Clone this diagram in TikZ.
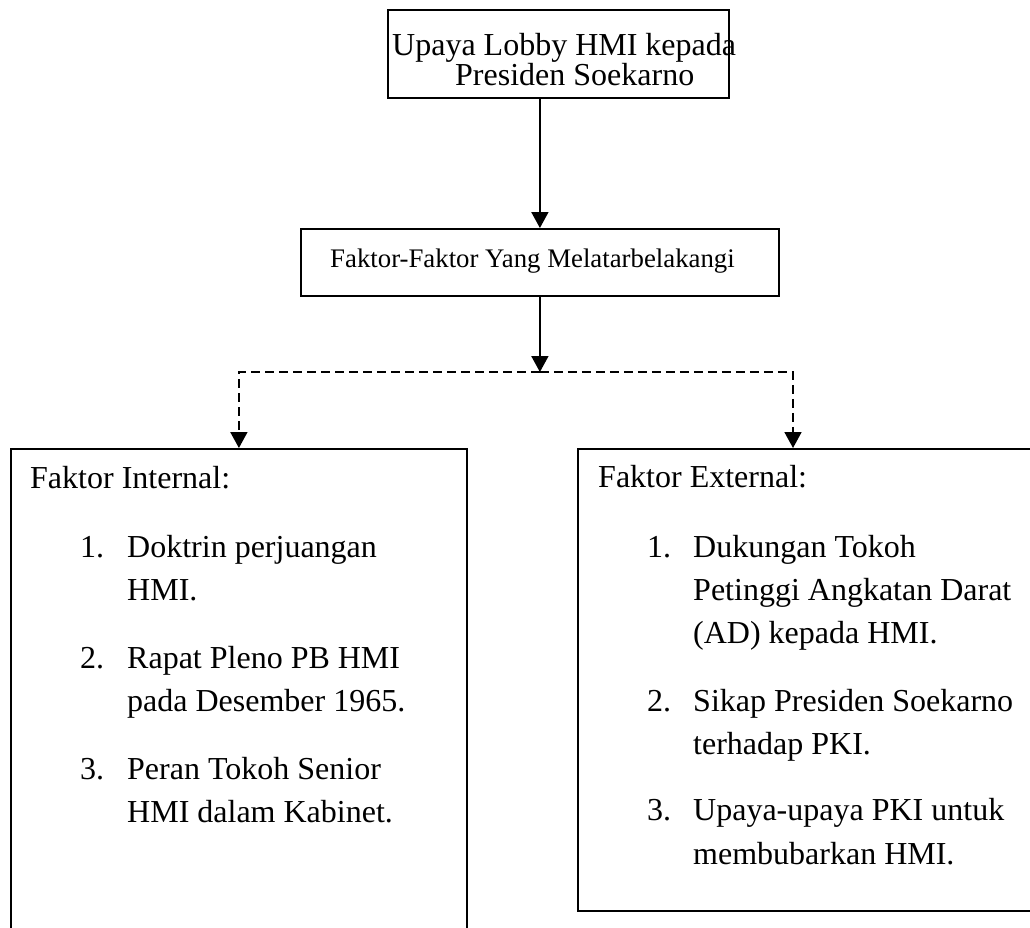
\documentclass[tikz,border=0pt]{standalone}
\usepackage{fontspec}
\setmainfont{Liberation Serif}
\usetikzlibrary{arrows.meta}
\begin{document}
\begin{tikzpicture}[x=1pt,y=-1pt,
  box/.style={draw,line width=1.8pt,rectangle,inner sep=0pt,anchor=north west},
  txt/.style={anchor=base west,inner sep=0pt,font=\fontsize{32}{36}\selectfont},
  stxt/.style={anchor=base west,inner sep=0pt,font=\fontsize{26.8}{30}\selectfont},
  link/.style={line width=1.8pt,-{Triangle[length=16pt,width=17pt]}},
  dlink/.style={link,dash pattern=on 9pt off 5pt}]
\useasboundingbox (0,0) rectangle (1030,927);
\clip (0,0) rectangle (1030,927);
% boxes
\node[box,minimum width=341pt,minimum height=88pt] (top) at (387,9) {};
\node[box,minimum width=478pt,minimum height=67pt] (mid) at (300,228) {};
\node[box,minimum width=456pt,minimum height=520pt] (left) at (10,448) {};
\node[box,minimum width=480pt,minimum height=462pt] (right) at (577,448) {};
% top texts
\node[txt] (t1) at (392,55) {Upaya Lobby HMI kepada};
\node[txt] (t2) at (455,85) {Presiden Soekarno};
% middle text
\node[stxt] (m1) at (330,267) {Faktor-Faktor Yang Melatarbelakangi};
% left texts
\node[txt] (lh) at (30,488) {Faktor Internal:};
\node[txt] (ln1) at (80,557) {1.};
\node[txt] (l1a) at (127,557) {Doktrin perjuangan};
\node[txt] (l1b) at (127,600) {HMI.};
\node[txt] (ln2) at (80,668) {2.};
\node[txt] (l2a) at (127,668) {Rapat Pleno PB HMI};
\node[txt] (l2b) at (127,711) {pada Desember 1965.};
\node[txt] (ln3) at (80,779) {3.};
\node[txt] (l3a) at (127,779) {Peran Tokoh Senior};
\node[txt] (l3b) at (127,822) {HMI dalam Kabinet.};
% right texts
\node[txt] (rh) at (598,487) {Faktor External:};
\node[txt] (rn1) at (647,557) {1.};
\node[txt] (r1a) at (693,557) {Dukungan Tokoh};
\node[txt] (r1b) at (693,600) {Petinggi Angkatan Darat};
\node[txt] (r1c) at (693,643) {(AD) kepada HMI.};
\node[txt] (rn2) at (647,711) {2.};
\node[txt] (r2a) at (693,711) {Sikap Presiden Soekarno};
\node[txt] (r2b) at (693,754) {terhadap PKI.};
\node[txt] (rn3) at (647,820) {3.};
\node[txt] (r3a) at (693,820) {Upaya-upaya PKI untuk};
\node[txt] (r3b) at (693,864) {membubarkan HMI.};
% connectors
\draw[link] (top.south -| mid.north) -- (mid.north);
\coordinate (junc) at (mid.south |- 0,372);
\draw[link] (mid.south) -- (junc);
\coordinate (rtip) at ([xshift=216pt]right.north west);
\draw[dlink] (junc) -| (left.north);
\draw[dlink] (junc) -| (rtip);
\end{tikzpicture}
\end{document}
